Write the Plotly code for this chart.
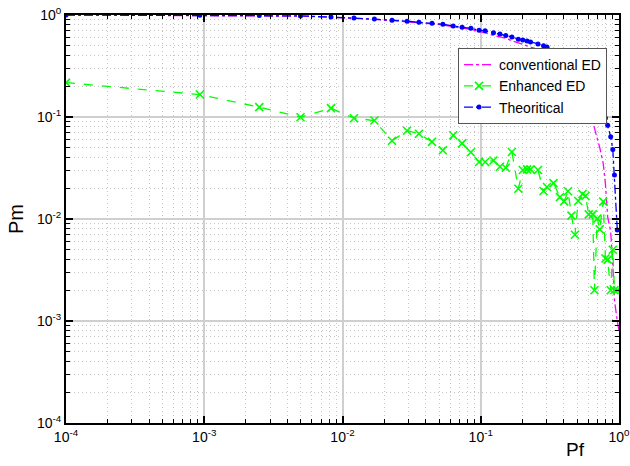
import plotly.graph_objects as go

# Pf values (shared thresholds)
pf = [1.0e-4, 9.3e-4, 2.5e-3, 4.97e-3, 8.26e-3, 0.0121, 0.0170, 0.0228, 0.0293, 0.0357,
      0.0444, 0.0532, 0.0632, 0.0733, 0.0848, 0.0973, 0.1076, 0.1236, 0.1377, 0.1517,
      0.168, 0.187, 0.2014, 0.2163, 0.229, 0.2594, 0.2844, 0.3013, 0.3357, 0.374,
      0.401, 0.428, 0.453, 0.480, 0.507, 0.544, 0.572, 0.604, 0.646, 0.664,
      0.697, 0.726, 0.769, 0.798, 0.828, 0.871, 0.902, 0.927, 0.972]

pm_enhanced = [0.217, 0.166, 0.125, 0.0995, 0.122, 0.0973, 0.0924, 0.0585, 0.0734, 0.0685,
               0.0571, 0.0472, 0.0662, 0.0552, 0.0451, 0.0362, 0.0362, 0.0375, 0.0325, 0.0318,
               0.0454, 0.0198, 0.0302, 0.0307, 0.0307, 0.0302, 0.0188, 0.0206, 0.0225, 0.0164,
               0.0149, 0.0187, 0.0108, 0.0070, 0.0150, 0.0176, 0.0168, 0.0111, 0.0111, 0.0020,
               0.0101, 0.0079, 0.0148, 0.0041, 0.0040, 0.0020, 0.0050, 0.0020, 0.0020]

pm_theory = [1.0, 0.995, 0.99, 0.98, 0.955, 0.935, 0.915, 0.89, 0.87, 0.85,
             0.83, 0.81, 0.78, 0.76, 0.74, 0.71, 0.70, 0.67, 0.65, 0.63,
             0.61, 0.58, 0.57, 0.555, 0.545, 0.52, 0.50, 0.485, 0.45, 0.42,
             0.40, 0.38, 0.35, 0.33, 0.31, 0.28, 0.26, 0.24, 0.21, 0.20,
             0.17, 0.155, 0.117, 0.098, 0.083, 0.064, 0.048, 0.027, 0.0078]

pf_conv = pf + [1.0]
pm_conv = [1.0, 0.995, 0.985, 0.975, 0.95, 0.93, 0.91, 0.88, 0.86, 0.84,
           0.82, 0.80, 0.77, 0.75, 0.72, 0.69, 0.67, 0.63, 0.61, 0.59,
           0.56, 0.53, 0.51, 0.50, 0.485, 0.46, 0.43, 0.41, 0.38, 0.35,
           0.33, 0.31, 0.28, 0.26, 0.23, 0.19, 0.16, 0.125, 0.09, 0.078,
           0.06, 0.05, 0.035, 0.022, 0.0105, 0.0075, 0.0035, 0.0016, 0.001, 0.0008]

tickvals = [1e-4, 1e-3, 1e-2, 1e-1, 1]
ticktext = ["10<sup>-4</sup>", "10<sup>-3</sup>", "10<sup>-2</sup>", "10<sup>-1</sup>", "10<sup>0</sup>"]

fig = go.Figure()
fig.add_trace(go.Scatter(x=pf_conv, y=pm_conv, mode="lines", name="conventional ED",
                         line=dict(color="#ff00ff", width=1.3, dash="dashdot")))
fig.add_trace(go.Scatter(x=pf, y=pm_enhanced, mode="lines+markers", name="Enhanced ED",
                         line=dict(color="#00ff00", width=1.3, dash="dash"),
                         marker=dict(symbol="x-thin", size=8, line=dict(color="#00ff00", width=1.6))))
fig.add_trace(go.Scatter(x=pf, y=pm_theory, mode="lines+markers", name="Theoritical",
                         line=dict(color="#0000ff", width=1.3, dash="dashdot"),
                         marker=dict(symbol="circle", size=5, color="#0000ff")))

axis_common = dict(
    type="log", tickvals=tickvals, ticktext=ticktext, automargin=False,
    ticklabeloverflow="allow",
    showline=True, linecolor="black", linewidth=2, mirror="ticks",
    ticks="inside", ticklen=7, tickwidth=1.5, tickcolor="black",
    showgrid=True, gridcolor="#cfcfcf", gridwidth=1.5,
    zeroline=False,
    tickfont=dict(family="Liberation Sans, Arial", size=14, color="black"),
    minor=dict(dtick="D1", ticks="inside", ticklen=4, tickcolor="black", tickwidth=1,
               showgrid=True, gridcolor="#c4c4c4", griddash="1px,3px", gridwidth=1),
)

fig.update_xaxes(range=[-4, 0], **axis_common)
fig.update_yaxes(range=[-4, 0], **axis_common)

fig.update_layout(
    width=630, height=466,
    margin=dict(l=66, r=11, t=15, b=43),
    paper_bgcolor="white", plot_bgcolor="white",
    showlegend=True,
    legend=dict(x=(458 - 66) / 553, y=0.919, xanchor="left", yanchor="top",
                bgcolor="white", bordercolor="#555555", borderwidth=1,
                font=dict(family="Liberation Sans, Arial", size=14, color="black"),
                tracegroupgap=0, itemwidth=30),
    annotations=[
        dict(text="Pf", x=(575 - 66) / 553, y=-(449 - 423) / 408, xref="paper", yref="paper",
             showarrow=False, xanchor="center", yanchor="middle",
             font=dict(family="Liberation Sans, Arial", size=19, color="black")),
        dict(text="Pm", x=(16 - 66) / 553, y=0.5, xref="paper", yref="paper", showarrow=False,
             textangle=-90, xanchor="center", yanchor="middle",
             font=dict(family="Liberation Sans, Arial", size=20, color="black")),
    ],
)

fig.write_html("out.html", config={"displayModeBar": False},
               post_script="document.body.style.margin='0';document.body.style.overflow='hidden';")
